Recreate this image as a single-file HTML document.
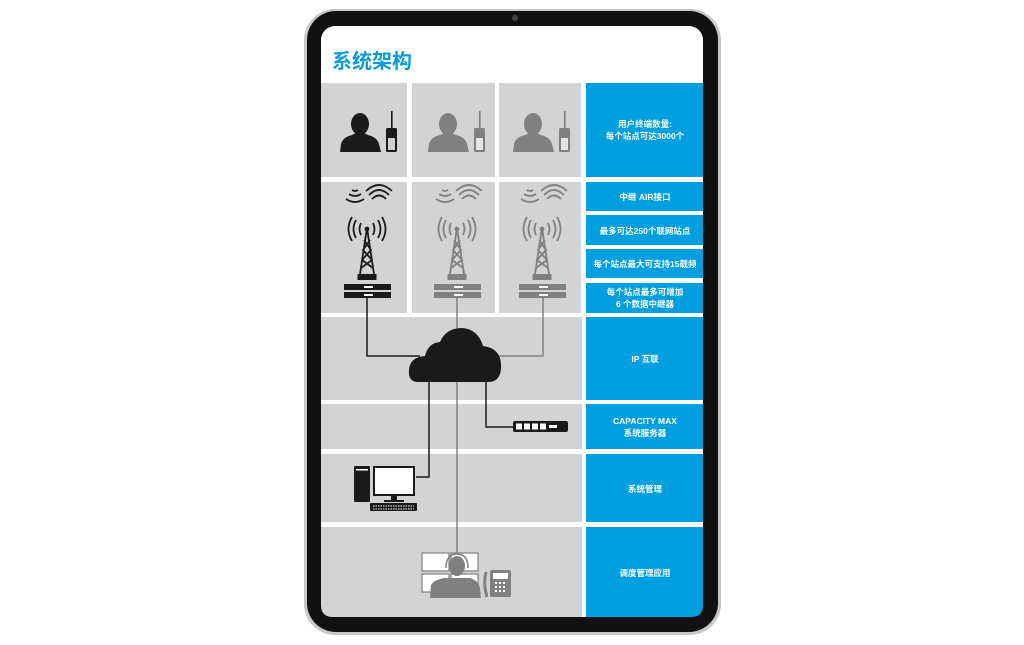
<!DOCTYPE html>
<html><head><meta charset="utf-8"><style>
html,body{margin:0;padding:0;background:#fff;width:1024px;height:645px;overflow:hidden}
svg{display:block}
text{font-family:"Liberation Sans","Noto Sans CJK SC",sans-serif;font-weight:bold}
</style></head><body>
<svg width="1024" height="645" viewBox="0 0 1024 645" xmlns="http://www.w3.org/2000/svg">
<defs>
<g id="person">
<ellipse cx="360" cy="124" rx="9" ry="11"/>
<path d="M340 152 L341 144 Q343 137 352 135 L356 133 L364 133 L368 135 Q377 137 379 144 L381 152 Z"/>
<rect x="391" y="111" width="1.6" height="18"/>
<rect x="386" y="128" width="11" height="24" rx="1.5"/>
<rect x="388" y="138" width="7" height="12" fill="#fff" opacity="0.8"/>
</g>
<g id="tower" fill="none" stroke-width="1.8">
<path d="M346 199 q9 6 18 0 M349 194 q6 4 12 0 M352 190 q3 2 6 0"/>
<path d="M372 199 q7-7 14 0 M369 195 q10-10 20 0 M366 191 q13-12 26 0"/>
<path d="M356 220 q-5 9 0 18 M352 217 q-7 12 0 24 M361 223 q-3 6 0 12"/>
<path d="M378 220 q5 9 0 18 M382 217 q7 12 0 24 M373 223 q3 6 0 12"/>
<path d="M367 228 L360 274 M367 228 L374 274 M364 240 L371 250 L362 260 L373 268 M370 240 L363 250 L372 260 L361 268"/>
<circle cx="367" cy="229" r="1.5"/>
<rect x="357.5" y="274" width="19" height="6" stroke="none" fill="currentColor"/>
<rect x="344" y="284" width="47" height="6" stroke="none" fill="currentColor"/>
<rect x="344" y="292" width="47" height="6" stroke="none" fill="currentColor"/>
<rect x="364" y="286" width="9" height="2" stroke="none" fill="#fff"/>
<rect x="364" y="294" width="9" height="2" stroke="none" fill="#fff"/>
</g>
</defs>
<!-- tablet -->
<rect x="304" y="9" width="417" height="626" rx="31" fill="#c8c8c8"/>
<rect x="307" y="11" width="411" height="621" rx="29" fill="#111"/>
<rect x="321" y="26" width="382" height="591" rx="14" fill="#fff"/>
<circle cx="515" cy="18" r="3" fill="#444"/>
<text x="332" y="68" font-size="20" fill="#0a9bdc">系统架构</text>
<!-- gray cells -->
<g fill="#d1d3d4">
<rect x="321" y="83" width="86" height="94"/><rect x="412" y="83" width="83" height="94"/><rect x="499" y="83" width="82" height="94"/>
<rect x="321" y="182" width="86" height="131"/><rect x="412" y="182" width="83" height="131"/><rect x="499" y="182" width="82" height="131"/>
<rect x="321" y="317" width="261" height="83"/>
<rect x="321" y="404" width="261" height="45"/>
<rect x="321" y="454" width="261" height="68"/>
<path d="M321 527 H582 V617 H333 Q321 617 321 605 Z"/>
</g>
<g fill="#009fdf">
<rect x="586" y="83" width="117" height="94"/>
<rect x="586" y="182" width="117" height="29"/>
<rect x="586" y="215" width="117" height="30"/>
<rect x="586" y="249" width="117" height="29"/>
<rect x="586" y="283" width="117" height="30"/>
<rect x="586" y="317" width="117" height="83"/>
<rect x="586" y="404" width="117" height="45"/>
<rect x="586" y="454" width="117" height="68"/>
<path d="M586 527 H703 V605 Q703 617 691 617 H586 Z"/>
</g>
<g fill="#fff" font-size="8.5" text-anchor="middle">
<text x="645" y="127">用户终端数量:</text>
<text x="645" y="139">每个站点可达3000个</text>
<text x="645" y="200">中继 AIR接口</text>
<text x="645" y="234">最多可达250个联网站点</text>
<text x="645" y="267">每个站点最大可支持15载频</text>
<text x="645" y="295">每个站点最多可增加</text>
<text x="645" y="307">6 个数据中继器</text>
<text x="645" y="362">IP 互联</text>
<text x="645" y="424">CAPACITY MAX</text>
<text x="645" y="436">系统服务器</text>
<text x="645" y="492">系统管理</text>
<text x="645" y="576">调度管理应用</text>
</g>
<!-- persons -->
<use href="#person" fill="#1a1a1a"/>
<use href="#person" fill="#808080" transform="translate(88,0)"/>
<use href="#person" fill="#808080" transform="translate(173,0)"/>
<!-- towers -->
<use href="#tower" stroke="#1a1a1a" color="#1a1a1a"/>
<use href="#tower" stroke="#808080" color="#808080" transform="translate(90,0)"/>
<use href="#tower" stroke="#808080" color="#808080" transform="translate(175,0)"/>
<!-- connectors -->
<g fill="none" stroke-width="1.5">
<path d="M367 298 V356 H420" stroke="#1a1a1a"/>
<path d="M543 298 V356 H490" stroke="#808080"/>
<path d="M429 380 V477 H416" stroke="#1a1a1a"/>
<path d="M486 380 V427 H513" stroke="#1a1a1a"/>
<path d="M457 298 V555" stroke="#808080"/>
</g>
<!-- cloud -->
<path d="M418 382 Q408 382 409 370 Q410 357 425 356 Q428 343 440 342 Q446 328 462 328 Q478 329 483 346 Q500 348 501 364 Q502 382 488 382 Z" fill="#1a1a1a"/>
<!-- server -->
<rect x="513" y="421" width="55" height="11" rx="2" fill="#1a1a1a"/>
<g fill="#fff"><rect x="516" y="423.5" width="6" height="6"/><rect x="524" y="423.5" width="6" height="6"/><rect x="532" y="423.5" width="6" height="6"/><rect x="540" y="423.5" width="6" height="6"/><rect x="549" y="425" width="8" height="3"/></g>
<!-- computer -->
<rect x="354" y="466" width="16" height="36" rx="1" fill="#1a1a1a"/>
<rect x="356" y="469" width="12" height="1.5" fill="#fff"/>
<rect x="373" y="466" width="42" height="30" fill="#1a1a1a"/>
<rect x="375" y="468" width="38" height="26" fill="#fff"/>
<rect x="391" y="496" width="6" height="5" fill="#1a1a1a"/>
<rect x="384" y="500" width="20" height="2" fill="#1a1a1a"/>
<rect x="370" y="503" width="47" height="8" rx="1" fill="#1a1a1a"/>
<g stroke="#fff" stroke-width="1" stroke-dasharray="1.5 1"><line x1="373" y1="506" x2="414" y2="506"/><line x1="373" y1="509" x2="414" y2="509"/></g>
<!-- dispatcher -->
<g fill="#fff" stroke="#808080" stroke-width="1.2">
<rect x="422" y="553" width="27" height="18"/><rect x="451" y="553" width="27" height="18"/>
<rect x="422" y="574" width="27" height="18"/><rect x="451" y="574" width="27" height="18"/>
</g>
<path d="M430 598 L431 585 Q434 580 444 578 L470 578 Q479 581 480 588 L481 598 Z" fill="#808080"/>
<ellipse cx="457" cy="566" rx="8" ry="10" fill="#808080"/>
<path d="M446 568 Q446 554 457 554 Q468 554 468 568" fill="none" stroke="#808080" stroke-width="1.5"/>
<path d="M486 572 Q483 584 487 597" fill="none" stroke="#808080" stroke-width="3"/>
<rect x="490" y="570" width="21" height="27" rx="2" fill="#808080"/>
<rect x="493" y="573" width="15" height="6" fill="#fff"/>
<g fill="#fff"><rect x="495" y="582" width="2" height="2"/><rect x="499" y="582" width="2" height="2"/><rect x="503" y="582" width="2" height="2"/><rect x="495" y="586" width="2" height="2"/><rect x="499" y="586" width="2" height="2"/><rect x="503" y="586" width="2" height="2"/><rect x="495" y="590" width="2" height="2"/><rect x="499" y="590" width="2" height="2"/><rect x="503" y="590" width="2" height="2"/></g>
</svg>
</body></html>
